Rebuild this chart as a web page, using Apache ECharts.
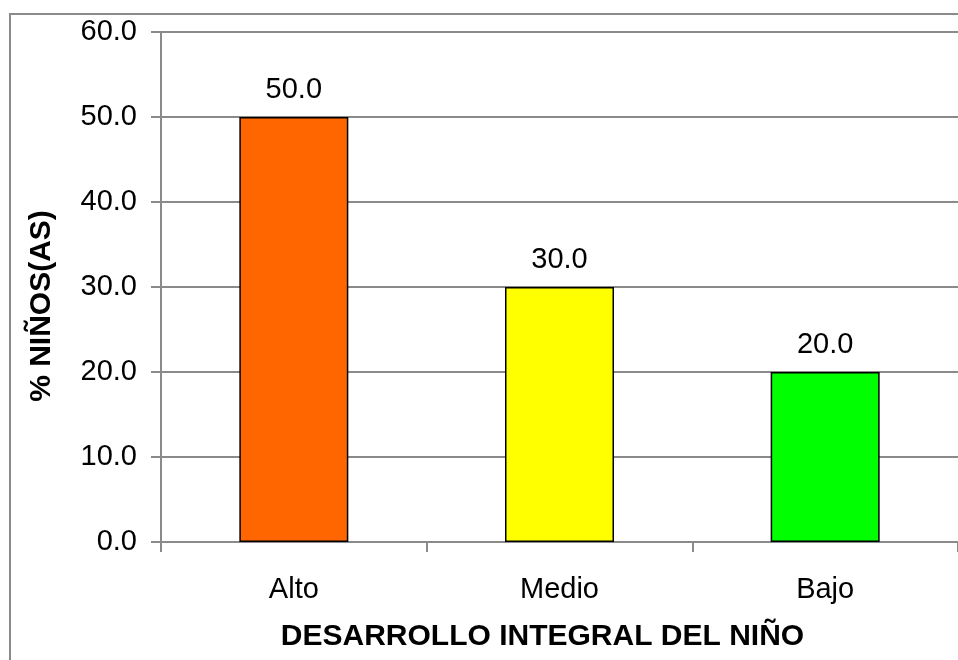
<!DOCTYPE html>
<html>
<head>
<meta charset="utf-8">
<script src="https://cdn.jsdelivr.net/npm/echarts@6/dist/echarts.min.js"></script>
<style>
html,body{margin:0;padding:0;background:#fff;}
#chart{width:958px;height:660px;}
</style>
</head>
<body>
<div id="chart"></div>
<script>
var categories = ['Alto', 'Medio', 'Bajo'];
var values = [50.0, 30.0, 20.0];
var barColors = ['#FF6600', '#FFFF00', '#00FF00'];
var yTicks = [0, 10, 20, 30, 40, 50, 60];
var xTitle = 'DESARROLLO INTEGRAL DEL NIÑO';
var yTitle = '% NIÑOS(AS)';

var FONT = '"Liberation Sans", Arial, sans-serif';
var GRAY = '#8a8a8a';

var chart = echarts.init(document.getElementById('chart'), null, {renderer: 'canvas'});
chart.setOption({
  backgroundColor: '#ffffff',
  animation: false,
  graphic: [{
    type: 'rect',
    z: -10,
    shape: {x: 10, y: 14, width: 1000, height: 700},
    style: {fill: 'none', stroke: GRAY, lineWidth: 2}
  }],
  grid: {left: 161, top: 32, width: 798, bottom: 118, containLabel: false},
  xAxis: {
    type: 'category',
    data: categories,
    name: xTitle,
    nameLocation: 'middle',
    nameGap: 80,
    nameTextStyle: {fontFamily: FONT, fontSize: 30, fontWeight: 'bold', color: '#000', padding: [0, 34, 0, 0]},
    axisLine: {lineStyle: {color: GRAY, width: 2}},
    axisTick: {show: true, inside: false, length: 10, alignWithLabel: false, lineStyle: {color: GRAY, width: 2}},
    axisLabel: {fontFamily: FONT, fontSize: 29, color: '#000', margin: 33},
    splitLine: {show: false}
  },
  yAxis: {
    type: 'value',
    min: yTicks[0],
    max: yTicks[yTicks.length - 1],
    interval: 10,
    name: yTitle,
    nameLocation: 'middle',
    nameGap: 104,
    nameRotate: 90,
    nameTextStyle: {fontFamily: FONT, fontSize: 30, fontWeight: 'bold', color: '#000', padding: [0, 38, 0, 0]},
    axisLine: {show: true, lineStyle: {color: GRAY, width: 2}},
    axisTick: {show: true, inside: false, length: 10, lineStyle: {color: GRAY, width: 2}},
    axisLabel: {fontFamily: FONT, fontSize: 29, color: '#000', margin: 24, formatter: function (v) { return v.toFixed(1); }},
    splitLine: {show: true, lineStyle: {color: GRAY, width: 2}}
  },
  series: [{
    type: 'bar',
    barWidth: 109,
    data: values.map(function (v, i) {
      return {value: v, itemStyle: {color: barColors[i]}};
    }),
    itemStyle: {borderColor: '#000', borderWidth: 1.5},
    label: {
      show: true,
      position: 'top',
      distance: 13,
      fontFamily: FONT,
      fontSize: 29,
      color: '#000',
      formatter: function (p) { return p.value.toFixed(1); }
    }
  }]
});
</script>
</body>
</html>
